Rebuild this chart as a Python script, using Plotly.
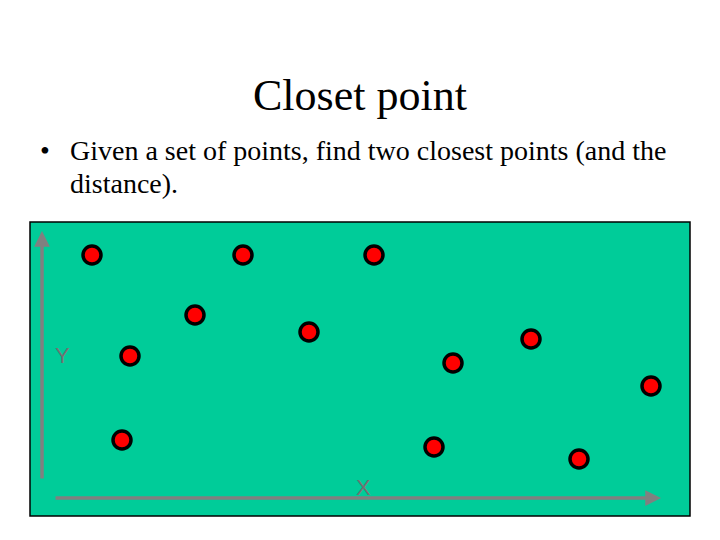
import plotly.graph_objects as go

# Point coordinates (arbitrary units; origin at lower-left of the green panel)
point_x = [62, 213, 344, 165, 279, 100, 423, 501, 621, 92, 404, 549]
point_y = [261, 261, 261, 201, 184, 160, 153, 177, 130, 76, 69, 57]

title_text = "Closet point"
bullet_line1 = "Given a set of points, find two closest points (and the"
bullet_line2 = "distance)."

W, H = 720, 540
OFF = 8  # page body margin offset
L, T = 30 - OFF, 222 - OFF
PW, PH = 660, 294
R = W - L - PW
B = H - T - PH

def px(x):
    return (x - OFF - L) / PW

def py(y):
    return (T + PH - (y - OFF)) / PH

fig = go.Figure()
fig.add_trace(go.Scatter(
    x=point_x, y=point_y, mode="markers",
    marker=dict(size=18, color="#FF0000", line=dict(color="black", width=3.5)),
    hoverinfo="skip", showlegend=False,
))

gray = "#808080"
serif = "Liberation Serif, Times New Roman"
annotations = [
    dict(x=12, y=285, ax=12, ay=36, xref="x", yref="y", axref="x", ayref="y",
         showarrow=True, arrowhead=2, arrowsize=0.9, arrowwidth=3.5, arrowcolor=gray, text=""),
    dict(x=631, y=18, ax=24, ay=18, xref="x", yref="y", axref="x", ayref="y",
         showarrow=True, arrowhead=2, arrowsize=0.9, arrowwidth=3.5, arrowcolor=gray, text=""),
    dict(x=32, y=161, xref="x", yref="y", text="Y", showarrow=False,
         font=dict(family="Liberation Sans, Arial", size=22, color="#727272")),
    dict(x=333, y=29, xref="x", yref="y", text="X", showarrow=False,
         font=dict(family="Liberation Sans, Arial", size=22, color="#727272")),
    dict(x=px(360), y=py(96), xref="paper", yref="paper", text=title_text, showarrow=False,
         xanchor="center", yanchor="middle",
         font=dict(family=serif, size=44, color="black")),
    dict(x=px(38), y=py(150), xref="paper", yref="paper", text="•", showarrow=False,
         xanchor="left", yanchor="middle",
         font=dict(family=serif, size=28, color="black")),
    dict(x=px(68), y=py(150), xref="paper", yref="paper", text=bullet_line1, showarrow=False,
         xanchor="left", yanchor="middle",
         font=dict(family=serif, size=28, color="black")),
    dict(x=px(68), y=py(183), xref="paper", yref="paper", text=bullet_line2, showarrow=False,
         xanchor="left", yanchor="middle",
         font=dict(family=serif, size=28, color="black")),
]

fig.update_layout(
    width=W, height=H,
    margin=dict(l=L, r=R, t=T, b=B, pad=0),
    paper_bgcolor="white",
    plot_bgcolor="#00CC99",
    xaxis=dict(range=[0, PW], visible=False, fixedrange=True),
    yaxis=dict(range=[0, PH], visible=False, fixedrange=True),
    annotations=annotations,
    shapes=[dict(type="rect", xref="paper", yref="paper", x0=0, y0=0, x1=1, y1=1,
                 line=dict(color="black", width=1.5), fillcolor="rgba(0,0,0,0)", layer="above")],
    showlegend=False,
)

fig.write_html("out.html")
